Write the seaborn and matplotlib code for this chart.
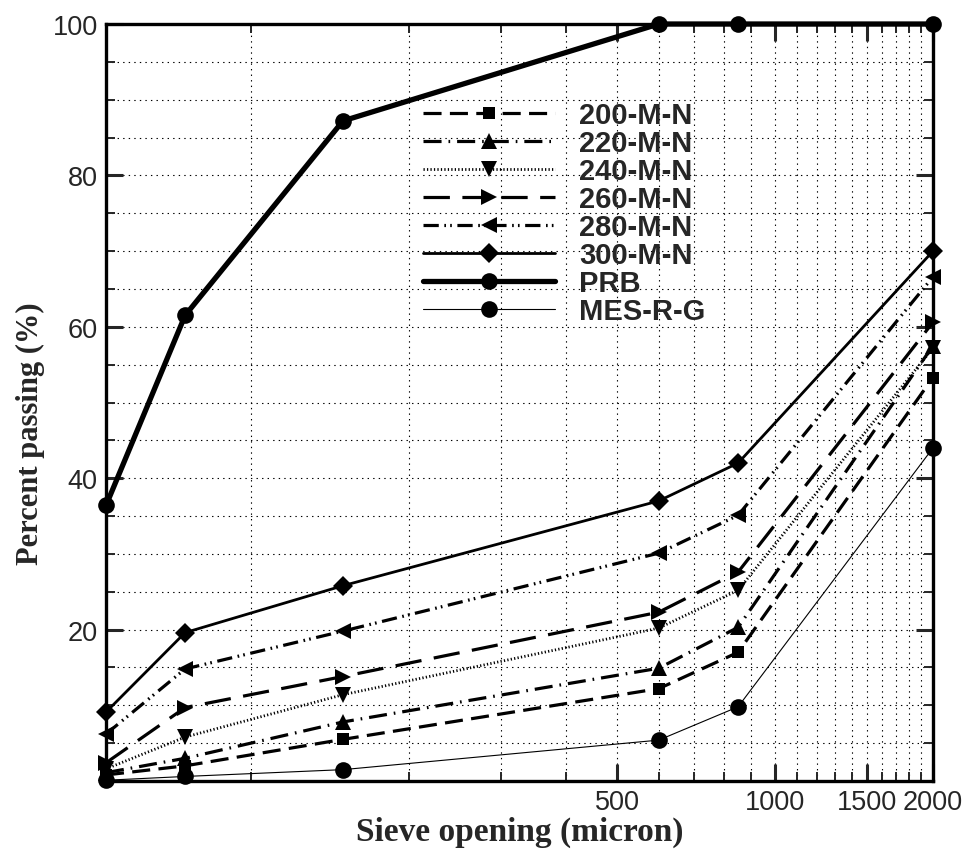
import matplotlib
matplotlib.use("Agg")
import matplotlib.pyplot as plt
import numpy as np
import pandas as pd
import seaborn as sns
from matplotlib.ticker import FixedLocator, FixedFormatter, NullFormatter

# Sieve openings (micron) and percent passing for each mix
sieve = [53, 75, 150, 600, 850, 2000]
mn200 = [0.8, 2.0, 5.5, 12.2, 17.0, 53.3]
mn220 = [1.1, 3.0, 7.8, 14.9, 20.3, 57.5]
mn240 = [1.6, 5.8, 11.4, 20.2, 25.2, 57.2]
mn260 = [2.4, 9.7, 13.8, 22.3, 27.6, 60.6]
mn280 = [6.2, 14.8, 19.8, 30.1, 35.1, 66.6]
mn300 = [9.1, 19.6, 25.8, 37.0, 42.0, 70.0]
prb = [36.4, 61.5, 87.2, 100.0, 100.0, 100.0]
mes = [0.1, 0.6, 1.5, 5.4, 9.8, 44.0]

series_names = ["200-M-N", "220-M-N", "240-M-N", "260-M-N",
                "280-M-N", "300-M-N", "PRB", "MES-R-G"]
series_values = [mn200, mn220, mn240, mn260, mn280, mn300, prb, mes]

x_major = [500, 1000, 1500, 2000]
x_major_labels = ["500", "1000", "1500", "2000"]
x_minor = [100, 200, 300, 400, 600, 700, 800, 900,
           1100, 1200, 1300, 1400, 1600, 1700, 1800, 1900]
y_major = [20, 40, 60, 80, 100]
y_minor = list(range(0, 101, 5))

sns.set_style("white")
plt.rcParams["lines.scale_dashes"] = False
plt.rcParams["font.family"] = ["Liberation Sans", "DejaVu Sans"]

# line style, marker, marker size, line width per series
styles = {
    "200-M-N": dict(ls=(0, (13, 6)), marker="s", ms=9, lw=2.3),
    "220-M-N": dict(ls=(0, (13, 5, 1.2, 5)), marker="^", ms=11, lw=2.3),
    "240-M-N": dict(ls=(0, (0.9, 1.6)), marker="v", ms=11, lw=2.0),
    "260-M-N": dict(ls=(0, (19, 9)), marker=">", ms=11, lw=2.3),
    "280-M-N": dict(ls=(0, (11, 4, 1.2, 3, 1.2, 4)), marker="<", ms=11, lw=2.3),
    "300-M-N": dict(ls="-", marker="D", ms=10, lw=2.0),
    "PRB": dict(ls="-", marker="o", ms=12, lw=3.8),
    "MES-R-G": dict(ls="-", marker="o", ms=12, lw=0.8),
}

df = pd.concat(
    [pd.DataFrame({"sieve": sieve, "passing": vals, "mix": name})
     for name, vals in zip(series_names, series_values)],
    ignore_index=True,
)

fig = plt.figure(figsize=(9.68, 8.53), dpi=100)
ax = fig.add_axes([106 / 968, 1 - 782 / 853, 827 / 968, 757 / 853])

for name in series_names:
    st = styles[name]
    sns.lineplot(
        data=df[df["mix"] == name], x="sieve", y="passing", ax=ax,
        color="black", linestyle=st["ls"], linewidth=st["lw"],
        marker=st["marker"], markersize=st["ms"], markeredgewidth=0,
        markerfacecolor="black", label=name, clip_on=False, zorder=5,
    )

ax.set_xscale("log")
ax.set_xlim(53, 2000)
ax.set_ylim(0, 100)

ax.xaxis.set_major_locator(FixedLocator(x_major))
ax.xaxis.set_major_formatter(FixedFormatter(x_major_labels))
ax.xaxis.set_minor_locator(FixedLocator(x_minor))
ax.xaxis.set_minor_formatter(NullFormatter())
ax.yaxis.set_major_locator(FixedLocator(y_major))
ax.yaxis.set_minor_locator(FixedLocator(y_minor))

ax.grid(which="both", linestyle=(0, (1, 3)), color="black", linewidth=0.8)
ax.tick_params(which="both", direction="in", top=True, right=True,
               bottom=True, left=True)
ax.tick_params(which="major", length=12, width=2.2, labelsize=19.5, pad=6)
ax.tick_params(which="minor", length=6.5, width=1.4)
for sp in ax.spines.values():
    sp.set_linewidth(2.4)
    sp.set_color("black")
    sp.set_zorder(6)

ax.set_xlabel("Sieve opening (micron)", fontsize=24, fontweight="bold",
              family="Liberation Serif", labelpad=0)
ax.set_ylabel("Percent passing (%)", fontsize=22, fontweight="bold",
              family="Liberation Serif")
ax.yaxis.set_label_coords(-0.074, 0.46)

handles, labels = ax.get_legend_handles_labels()
leg = ax.legend(handles, labels, loc="upper left",
                bbox_to_anchor=(0.383, 0.898), frameon=False,
                handlelength=4.55, handletextpad=0.8, labelspacing=0.0,
                borderpad=0, borderaxespad=0,
                prop=dict(family="Liberation Sans", weight="bold", size=21))

fig.savefig("out.png", dpi=100)
